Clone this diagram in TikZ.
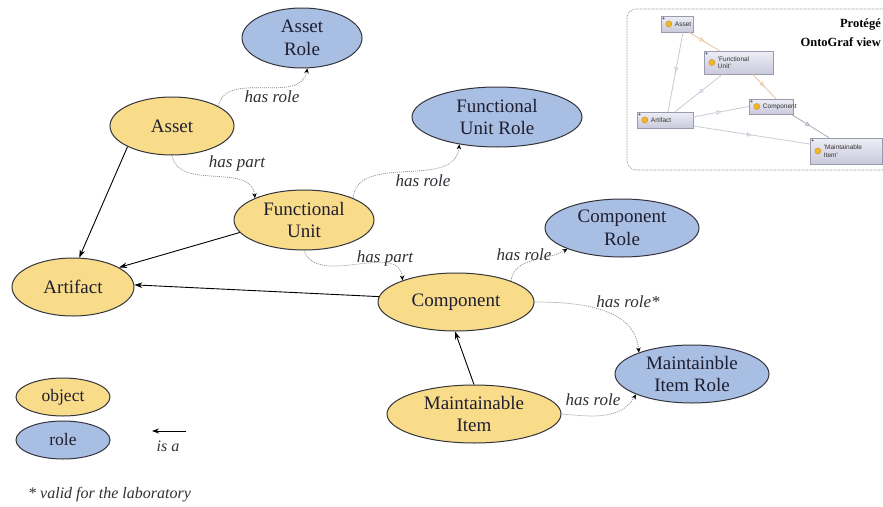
\documentclass[tikz,border=0pt]{standalone}
\usepackage{fontspec}
\setmainfont{Liberation Serif}
\newfontfamily\insetfont{Liberation Sans}
\usetikzlibrary{shapes.geometric,arrows.meta,decorations.markings}

\definecolor{objfill}{HTML}{F9DC8A}
\definecolor{rolefill}{HTML}{A9BEE3}
\definecolor{outline}{HTML}{34343C}
\definecolor{nodetext}{HTML}{1E1E30}
\definecolor{labeltext}{HTML}{303036}
\definecolor{relline}{HTML}{8A8A8A}
\definecolor{boxtop}{HTML}{EEEEF6}
\definecolor{boxbot}{HTML}{C9C9DC}
\definecolor{boxline}{HTML}{9A9AAE}
\definecolor{dotfill}{HTML}{F0B828}
\definecolor{dotline}{HTML}{D08A10}
\definecolor{isaline}{HTML}{C3CCD6}
\definecolor{partline}{HTML}{E6C49C}

\tikzset{
  obj/.style={ellipse, draw=outline, line width=1pt, fill=objfill, inner sep=0pt,
    align=center, text=nodetext, font=\fontsize{19}{22.5}\selectfont},
  role/.style={obj, fill=rolefill},
  isa/.style={-{Stealth[length=8pt,width=5.5pt]}, line width=0.9pt, black},
  hasrel/.style={-{Stealth[length=5pt,width=4.5pt,color=black]}, relline,
    dash pattern=on 1pt off 1pt, line width=0.7pt},
  lbl/.style={text=labeltext, font=\itshape\fontsize{17}{20}\selectfont, inner sep=1pt},
  ibox/.style={rectangle, draw=boxline, line width=0.5pt, top color=boxtop,
    bottom color=boxbot, inner sep=0pt},
  itext/.style={font=\insetfont\fontsize{6.5}{7.5}\selectfont, text=black!80,
    align=left, inner sep=0pt, anchor=west},
  iplus/.style={font=\insetfont\fontsize{5.5}{5.5}\selectfont, inner sep=0pt},
  iedge/.style={line width=0.8pt, postaction={decorate},
    decoration={markings, mark=at position 0.5 with
      {\arrow{Triangle[open,length=4.5pt,width=4.5pt,fill=white]}}}},
}

\begin{document}
\begin{tikzpicture}[x=1pt,y=-1pt]
\useasboundingbox (0,0) rectangle (883,506);
\clip (0,0) rectangle (883,506);
\fill[white] (0,0) rectangle (883,506);

% ---------- main concepts ----------
\node[role, minimum width=120pt, minimum height=60pt] (assetrole) at (302,38) {Asset\\Role};
\node[obj,  minimum width=124pt, minimum height=58pt] (asset) at (172,126) {Asset};
\node[role, minimum width=170pt, minimum height=60pt] (furole) at (497,117) {Functional\\Unit Role};
\node[obj,  minimum width=140pt, minimum height=60pt] (fu) at (304,220) {Functional\\Unit};
\node[role, minimum width=154pt, minimum height=58pt] (comprole) at (622,228) {Component\\Role};
\node[obj,  minimum width=122pt, minimum height=58pt] (artifact) at (73,287) {Artifact};
\node[obj,  minimum width=156pt, minimum height=58pt] (component) at (456,302) {Component};
\node[role, minimum width=154pt, minimum height=58pt] (mirole) at (692,374) {Maintainble\\Item Role};
\node[obj,  minimum width=174pt, minimum height=58pt] (mi) at (474,414) {Maintainable\\Item};

% ---------- is-a links ----------
\draw[isa] (asset.205) -- (artifact.78);
\draw[isa] (fu.191) -- (artifact.23);
\draw[isa] (component.176) -- (artifact.2);
\draw[isa] (mi.north) -- (component.268);

% ---------- has role / has part links ----------
\draw[hasrel] (asset.23) to[out=80,in=-100] (assetrole.-80);
\draw[hasrel] (asset.south) to[out=-80,in=95] (fu.156);
\draw[hasrel] (fu.24) to[out=85,in=-95] (furole.216);
\draw[hasrel] (fu.south) to[out=-70,in=95] (component.158);
\draw[hasrel] (component.21) to[out=80,in=-150] (comprole.201);
\draw[hasrel] (component.east) to[out=0,in=95] (mirole.158);
\draw[hasrel] (mi.east) to[out=-5,in=-120] (mirole.200);

\node[lbl] (l1) at (272,97) {has role};
\node[lbl] (l2) at (237,163) {has part};
\node[lbl] (l3) at (423,181) {has role};
\node[lbl] (l4) at (385,258) {has part};
\node[lbl] (l5) at (524,255) {has role};
\node[lbl] (l6) at (628,302) {has role*};
\node[lbl] (l7) at (593,400) {has role};

% ---------- legend ----------
\node[obj, minimum width=94pt, minimum height=38pt, font=\fontsize{17.5}{20}\selectfont] (legobj) at (63,397) {object};
\node[role, minimum width=94pt, minimum height=38pt, font=\fontsize{17.5}{20}\selectfont] (legrole) at (63,440) {role};
\coordinate (isafrom) at (186,431);
\coordinate (isato) at (152,431);
\draw[isa, -{Stealth[length=7pt,width=5pt]}] (isafrom) -- (isato);
\node[lbl, font=\itshape\fontsize{16}{19}\selectfont] (isalbl) at (168,446) {is a};
\node[lbl, anchor=west, font=\itshape\fontsize{16}{19}\selectfont] (note) at (27,495) {* valid for the laboratory};

% ---------- OntoGraf inset ----------
\draw[black!45, line width=0.6pt, dash pattern=on 0.8pt off 0.8pt, rounded corners=9pt,
  fill=white] (627,9) rectangle (905,170);
\node[font=\bfseries\fontsize{12.5}{15}\selectfont, anchor=east, inner sep=0pt] (pt1) at (881,25) {Protégé};
\node[font=\bfseries\fontsize{12.5}{15}\selectfont, anchor=east, inner sep=0pt] (pt2) at (881,42) {OntoGraf view};

\node[ibox, minimum width=32pt, minimum height=16pt] (iAsset) at (677,24) {};
\node[ibox, minimum width=69pt, minimum height=23pt] (iFU) at (738.5,62.5) {};
\node[ibox, minimum width=44pt, minimum height=15pt] (iComp) at (771,106.5) {};
\node[ibox, minimum width=56pt, minimum height=16pt] (iArt) at (665,120) {};
\node[ibox, minimum width=72pt, minimum height=26pt] (iMI) at (846,151) {};

\draw[iedge, partline] ([xshift=12pt]iAsset.south) -- ([xshift=-19pt]iFU.north);
\draw[iedge, isaline] ([xshift=6pt]iAsset.south) -- ([xshift=3pt]iArt.north);
\draw[iedge, isaline] ([xshift=-16pt]iFU.south) -- ([xshift=10pt]iArt.north);
\draw[iedge, partline] ([xshift=14pt]iFU.south) -- ([xshift=5pt]iComp.north);
\draw[iedge, isaline] ([yshift=3pt]iArt.east) -- (iComp.west);
\draw[iedge, isaline] ([yshift=-6pt]iArt.east) -- ([yshift=7pt]iMI.west);
\draw[iedge, isaline!85!black] ([xshift=-2pt]iComp.south east) -- ([xshift=-17pt]iMI.north);

\foreach \b in {iAsset,iFU,iComp,iArt,iMI}{
  \filldraw[fill=dotfill, draw=dotline, line width=0.4pt] ([xshift=8pt]\b.west) circle (3pt);
  \node[iplus] at ([shift={(3pt,-3pt)}]\b.north west) {+};
}
\node[itext] (tAsset) at ([xshift=14pt]iAsset.west) {Asset};
\node[itext] (tFU) at ([xshift=14pt]iFU.west) {'Functional\\Unit'};
\node[itext] (tComp) at ([xshift=14pt]iComp.west) {Component};
\node[itext] (tArt) at ([xshift=14pt]iArt.west) {Artifact};
\node[itext] (tMI) at ([xshift=14pt]iMI.west) {'Maintainable\\Item'};
\end{tikzpicture}
\end{document}
